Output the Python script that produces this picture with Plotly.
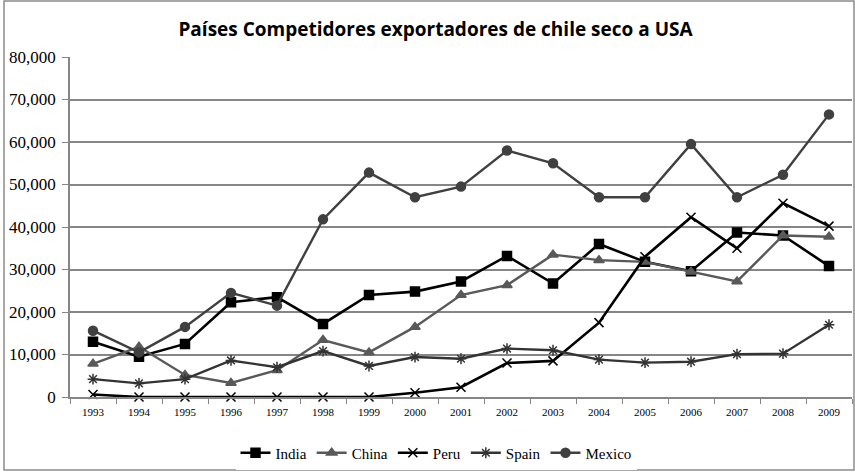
import plotly.graph_objects as go

years = [str(y) for y in range(1993, 2010)]
india = [13000, 9500, 12500, 22300, 23500, 17200, 24000, 24800, 27200, 33200, 26700, 36000, 31800, 29600, 38700, 38000, 30800]
china = [7800, 11800, 5200, 3300, 6300, 13400, 10500, 16500, 24000, 26300, 33500, 32200, 31800, 29500, 27200, 38000, 37700]
peru = [600, 0, 0, 0, 0, 0, 0, 1000, 2300, 8000, 8500, 17500, 33000, 42300, 35000, 45600, 40200]
spain = [4200, 3200, 4200, 8600, 7000, 10800, 7300, 9400, 9000, 11400, 11000, 8800, 8100, 8300, 10100, 10200, 17000]
mexico = [15600, 10500, 16500, 24500, 21500, 41800, 52800, 47000, 49500, 58000, 55000, 47000, 47000, 59500, 47000, 52300, 66500]

series = [
    ("India", india, "#000000", "square", 9, 2.6),
    ("China", china, "#595959", "triangle-up", 9, 2.4),
    ("Peru", peru, "#000000", "x-thin-open", 9, 2.6),
    ("Spain", spain, "#333333", "asterisk-open", 9, 2.4),
    ("Mexico", mexico, "#404040", "circle", 9, 2.4),
]

SERIF = "Liberation Serif, Times New Roman, serif"

fig = go.Figure()
for name, vals, col, sym, size, w in series:
    fig.add_trace(go.Scatter(
        x=years, y=vals, name=name, mode="lines+markers",
        line=dict(color=col, width=w),
        marker=dict(symbol=sym, size=size, color=col, line=dict(color=col, width=1.5)),
        cliponaxis=False,
    ))

W, H = 855, 473
L, R, T, B = 70, 3, 57, 76
pw, ph = W - L - R, H - T - B

def px(x):
    return (x - L) / pw

def py(y):
    return (H - B - y) / ph

fig.add_shape(type="rect", xref="paper", yref="paper",
              x0=px(4), x1=px(854), y0=py(470), y1=py(1),
              line=dict(color="#8c8c8c", width=1.5), fillcolor="rgba(0,0,0,0)", layer="below")

fig.update_layout(
    width=W, height=H,
    font=dict(family=SERIF, color="black"),
    margin=dict(l=L, r=R, t=T, b=B, autoexpand=False),
    paper_bgcolor="white", plot_bgcolor="white",
    title=dict(text="<b>Países Competidores exportadores de chile seco a USA</b>",
               x=(183 + 688) / 2 / W, xanchor="center", y=1 - 29 / H, yanchor="middle",
               font=dict(family="Open Sans", size=19, color="black")),
    legend=dict(orientation="h", x=px(436), xanchor="center",
                y=py(453), yanchor="middle",
                font=dict(family=SERIF, size=15, color="black"),
                tracegroupgap=0),
    showlegend=True,
)

fig.update_xaxes(
    type="category", range=[-0.5, len(years) - 0.5],
    tickson="boundaries", ticks="outside", ticklen=5,
    tickcolor="#868686", showline=True, linecolor="#868686", linewidth=1.5,
    showgrid=False, tickfont=dict(family=SERIF, size=11, color="black"),
    ticklabelstandoff=4,
    fixedrange=True,
)
fig.update_yaxes(
    range=[0, 80000], tickvals=list(range(0, 80001, 10000)), tickformat=",",
    ticks="outside", ticklen=6, tickcolor="#868686",
    showline=True, linecolor="#868686", linewidth=1.5,
    showgrid=True, gridcolor="#868686", gridwidth=1.5, zeroline=False,
    tickfont=dict(family=SERIF, size=17, color="black"),
    ticklabelstandoff=3,
)

fig.write_html("out.html", post_script="document.body.style.margin='0';",
               config={"displayModeBar": False})
